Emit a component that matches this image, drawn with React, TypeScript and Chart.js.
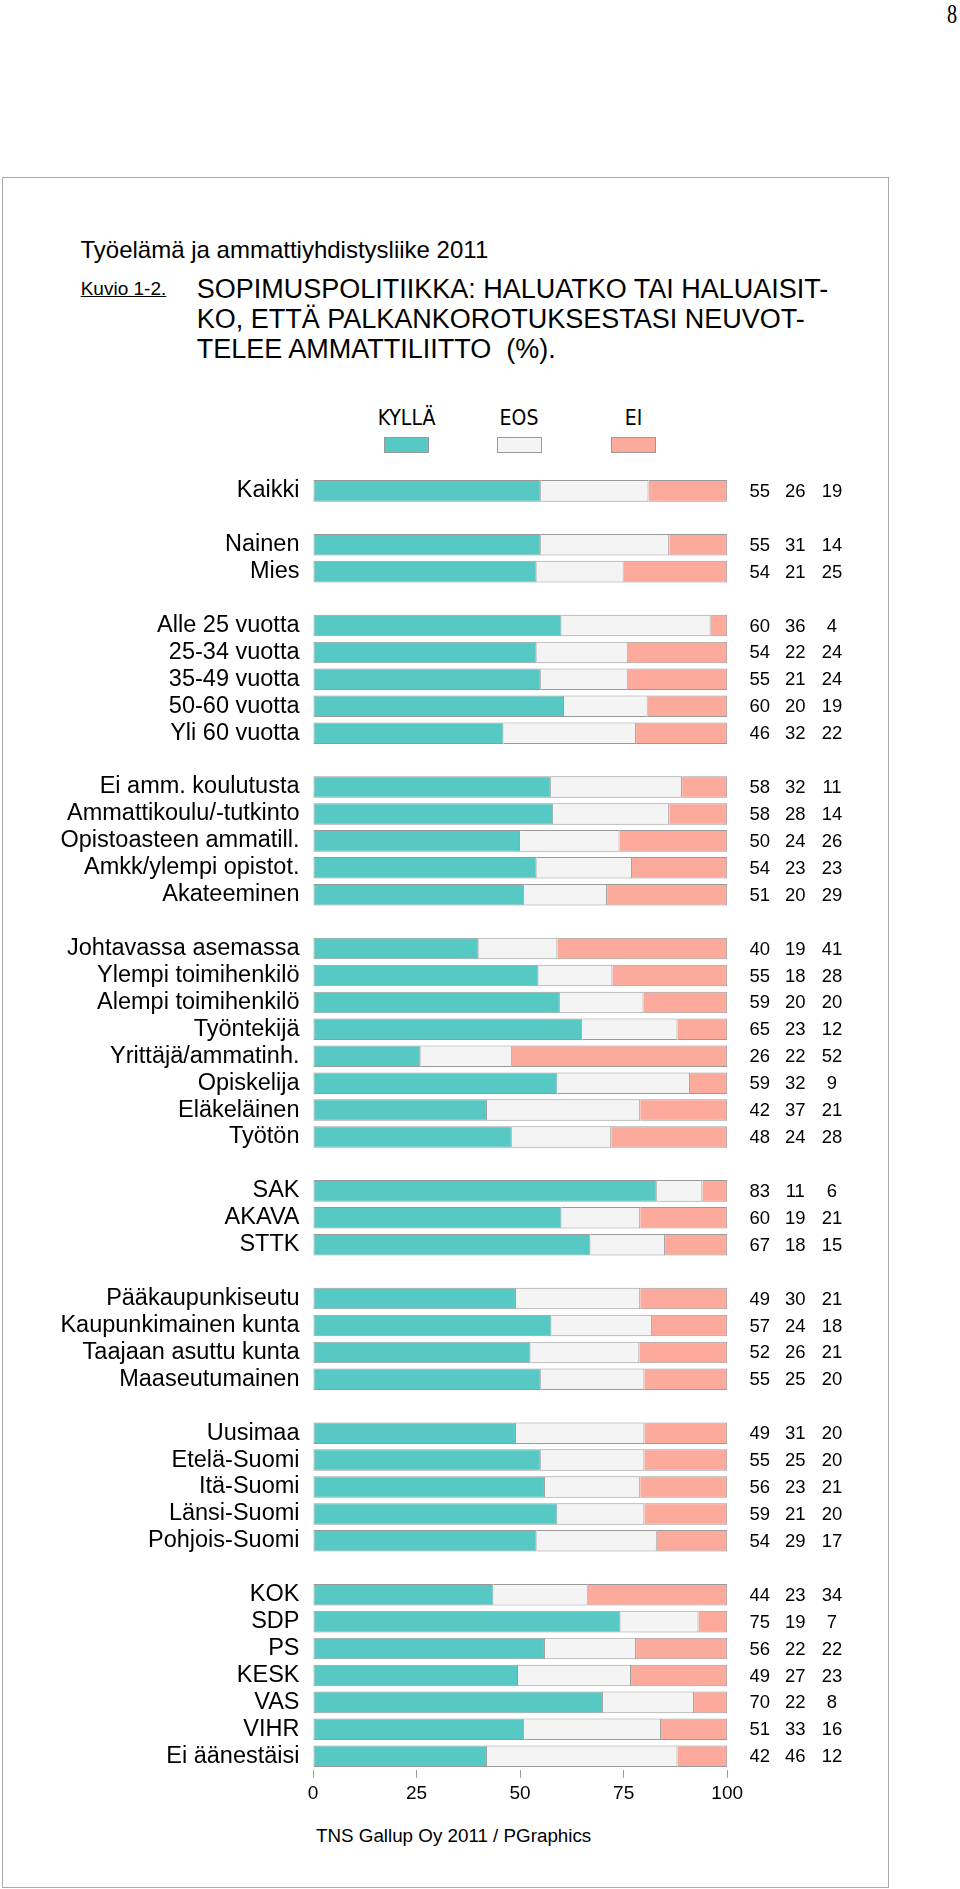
import React, { useEffect, useRef } from 'react';
import { Chart, registerables } from 'chart.js';

Chart.register(...registerables);

// ---- data ----
const categories = [
  'Kaikki', '',
  'Nainen', 'Mies', '',
  'Alle 25 vuotta', '25-34 vuotta', '35-49 vuotta', '50-60 vuotta', 'Yli 60 vuotta', '',
  'Ei amm. koulutusta', 'Ammattikoulu/-tutkinto', 'Opistoasteen ammatill.', 'Amkk/ylempi opistot.', 'Akateeminen', '',
  'Johtavassa asemassa', 'Ylempi toimihenkilö', 'Alempi toimihenkilö', 'Työntekijä', 'Yrittäjä/ammatinh.', 'Opiskelija', 'Eläkeläinen', 'Työtön', '',
  'SAK', 'AKAVA', 'STTK', '',
  'Pääkaupunkiseutu', 'Kaupunkimainen kunta', 'Taajaan asuttu kunta', 'Maaseutumainen', '',
  'Uusimaa', 'Etelä-Suomi', 'Itä-Suomi', 'Länsi-Suomi', 'Pohjois-Suomi', '',
  'KOK', 'SDP', 'PS', 'KESK', 'VAS', 'VIHR', 'Ei äänestäisi',
];

const kylla = [
  55, null,
  55, 54, null,
  60, 54, 55, 60, 46, null,
  58, 58, 50, 54, 51, null,
  40, 55, 59, 65, 26, 59, 42, 48, null,
  83, 60, 67, null,
  49, 57, 52, 55, null,
  49, 55, 56, 59, 54, null,
  44, 75, 56, 49, 70, 51, 42,
];

const eos = [
  26, null,
  31, 21, null,
  36, 22, 21, 20, 32, null,
  32, 28, 24, 23, 20, null,
  19, 18, 20, 23, 22, 32, 37, 24, null,
  11, 19, 18, null,
  30, 24, 26, 25, null,
  31, 25, 23, 21, 29, null,
  23, 19, 22, 27, 22, 33, 46,
];

const ei = [
  19, null,
  14, 25, null,
  4, 24, 24, 19, 22, null,
  11, 14, 26, 23, 29, null,
  41, 28, 20, 12, 52, 9, 21, 28, null,
  6, 21, 15, null,
  21, 18, 21, 20, null,
  20, 20, 21, 20, 17, null,
  34, 7, 22, 23, 8, 16, 12,
];

const seriesNames = ['KYLLÄ', 'EOS', 'EI'];
const xTicks = [0, 25, 50, 75, 100];

// ---- styles ----
const colors = ['#56C9C4', '#F4F4F4', '#FCAA9C'];
const barBorder = '#9a9a9a';
const SANS = '"Liberation Sans", Arial, Helvetica, sans-serif';
const NARROW = '"Liberation Sans Narrow", "Arial Narrow", "DejaVu Sans Condensed", sans-serif';

const series = [kylla, eos, ei];

function share(arr: (number | null)[], i: number): number | null {
  const v = arr[i];
  if (v == null) return null;
  const total = (kylla[i] ?? 0) + (eos[i] ?? 0) + (ei[i] ?? 0);
  return (v / total) * 100;
}

const valueLabels = {
  id: 'valueLabels',
  afterDatasetsDraw(chart: any) {
    const { ctx, chartArea, scales } = chart;
    const offsets = [32.5, 68.1, 104.8];
    ctx.save();
    ctx.font = `18.5px ${SANS}`;
    ctx.fillStyle = '#000';
    ctx.textAlign = 'center';
    ctx.textBaseline = 'middle';
    categories.forEach((_, i) => {
      if (kylla[i] == null) return;
      const y = scales.y.getPixelForValue(i) + 1;
      series.forEach((arr, s) => {
        ctx.fillText(String(arr[i]), chartArea.right + offsets[s], y);
      });
    });
    ctx.restore();
  },
};

export default function App() {
  const ref = useRef<HTMLCanvasElement>(null);

  useEffect(() => {
    const canvas = ref.current;
    if (!canvas) return;
    const chart = new Chart(canvas, {
      type: 'bar',
      data: {
        labels: categories,
        datasets: series.map((arr, s) => ({
          label: seriesNames[s],
          data: categories.map((_, i) => share(arr, i)),
          backgroundColor: colors[s],
          borderColor: barBorder,
          borderWidth: 1,
          borderSkipped: s === 0 ? false : 'start',
          barPercentage: 0.8,
          categoryPercentage: 1,
        })) as any,
      },
      options: {
        indexAxis: 'y',
        responsive: false,
        animation: false,
        devicePixelRatio: 1,
        layout: { padding: { left: 0, right: 232.8, top: 17.4, bottom: 0 } },
        plugins: {
          legend: { display: false },
          tooltip: { enabled: false },
        },
        scales: {
          x: {
            stacked: true,
            min: 0,
            max: 100,
            afterBuildTicks: (scale: any) => {
              scale.ticks = xTicks.map((v) => ({ value: v }));
            },
            afterFit: (scale: any) => {
              scale.height = 50.3;
              scale.paddingLeft = 0;
              scale.paddingRight = 0;
            },
            grid: {
              display: true,
              drawOnChartArea: false,
              drawTicks: true,
              tickLength: 8,
              color: '#9a9a9a',
              lineWidth: 1,
            },
            border: { display: false },
            ticks: {
              color: '#000',
              font: { family: SANS, size: 19 },
              padding: 5,
              maxRotation: 0,
              autoSkip: false,
            },
          },
          y: {
            stacked: true,
            afterFit: (scale: any) => {
              scale.width = 313;
              scale.paddingTop = 0;
              scale.paddingBottom = 0;
            },
            grid: { display: false, drawTicks: false },
            border: { display: false },
            ticks: {
              color: '#000',
              font: { family: SANS, size: 23.5 },
              padding: 13.5,
              autoSkip: false,
            },
          },
        },
      } as any,
      plugins: [valueLabels],
    });
    return () => chart.destroy();
  }, []);

  const legendCenters = [406.5, 519, 633.5];

  return (
    <div
      style={{
        position: 'absolute',
        left: 0,
        top: 0,
        width: 960,
        height: 1889,
        background: '#fff',
        fontFamily: SANS,
        color: '#000',
        overflow: 'hidden',
      }}
    >
      <div
        style={{
          position: 'absolute',
          left: 946.5,
          top: 0,
          fontFamily: '"Liberation Serif", "Times New Roman", serif',
          fontSize: 28,
          lineHeight: '28px',
          transform: 'scaleX(0.72)',
          transformOrigin: 'left top',
        }}
      >
        8
      </div>

      <div
        style={{
          position: 'absolute',
          left: 2,
          top: 177,
          width: 887,
          height: 1711,
          border: '1px solid #aaaaaa',
          boxSizing: 'border-box',
        }}
      />

      <div
        style={{
          position: 'absolute',
          left: 80.5,
          top: 237.5,
          fontSize: 24,
          lineHeight: '24px',
          whiteSpace: 'nowrap',
        }}
      >
        Työelämä ja ammattiyhdistysliike 2011
      </div>

      <div
        style={{
          position: 'absolute',
          left: 80.7,
          top: 279,
          fontSize: 19,
          lineHeight: '19px',
          textDecoration: 'underline',
          whiteSpace: 'nowrap',
        }}
      >
        Kuvio 1-2.
      </div>

      <div
        style={{
          position: 'absolute',
          left: 196.7,
          top: 274,
          fontSize: 27,
          lineHeight: '30px',
          whiteSpace: 'pre',
        }}
      >
        {'SOPIMUSPOLITIIKKA: HALUATKO TAI HALUAISIT-\nKO, ETTÄ PALKANKOROTUKSESTASI NEUVOT-\nTELEE AMMATTILIITTO  (%).'}
      </div>

      {seriesNames.map((name, s) => (
        <React.Fragment key={name}>
          <div
            style={{
              position: 'absolute',
              left: legendCenters[s] - 60,
              width: 120,
              top: 408.2,
              textAlign: 'center',
              fontFamily: NARROW,
              fontSize: 21,
              lineHeight: '21px',
              whiteSpace: 'nowrap',
            }}
          >
            {name}
          </div>
          <div
            style={{
              position: 'absolute',
              left: legendCenters[s] - 22.5,
              top: 437.3,
              width: 45,
              height: 16,
              background: colors[s],
              border: `1px solid ${barBorder}`,
              boxSizing: 'border-box',
            }}
          />
        </React.Fragment>
      ))}

      <canvas
        ref={ref}
        width={960}
        height={1360}
        style={{ position: 'absolute', left: 0, top: 460, width: 960, height: 1360, display: 'block' }}
      />

      <div
        style={{
          position: 'absolute',
          left: 316,
          top: 1827,
          fontSize: 18.8,
          lineHeight: '18.8px',
          whiteSpace: 'nowrap',
        }}
      >
        TNS Gallup Oy 2011 / PGraphics
      </div>
    </div>
  );
}
